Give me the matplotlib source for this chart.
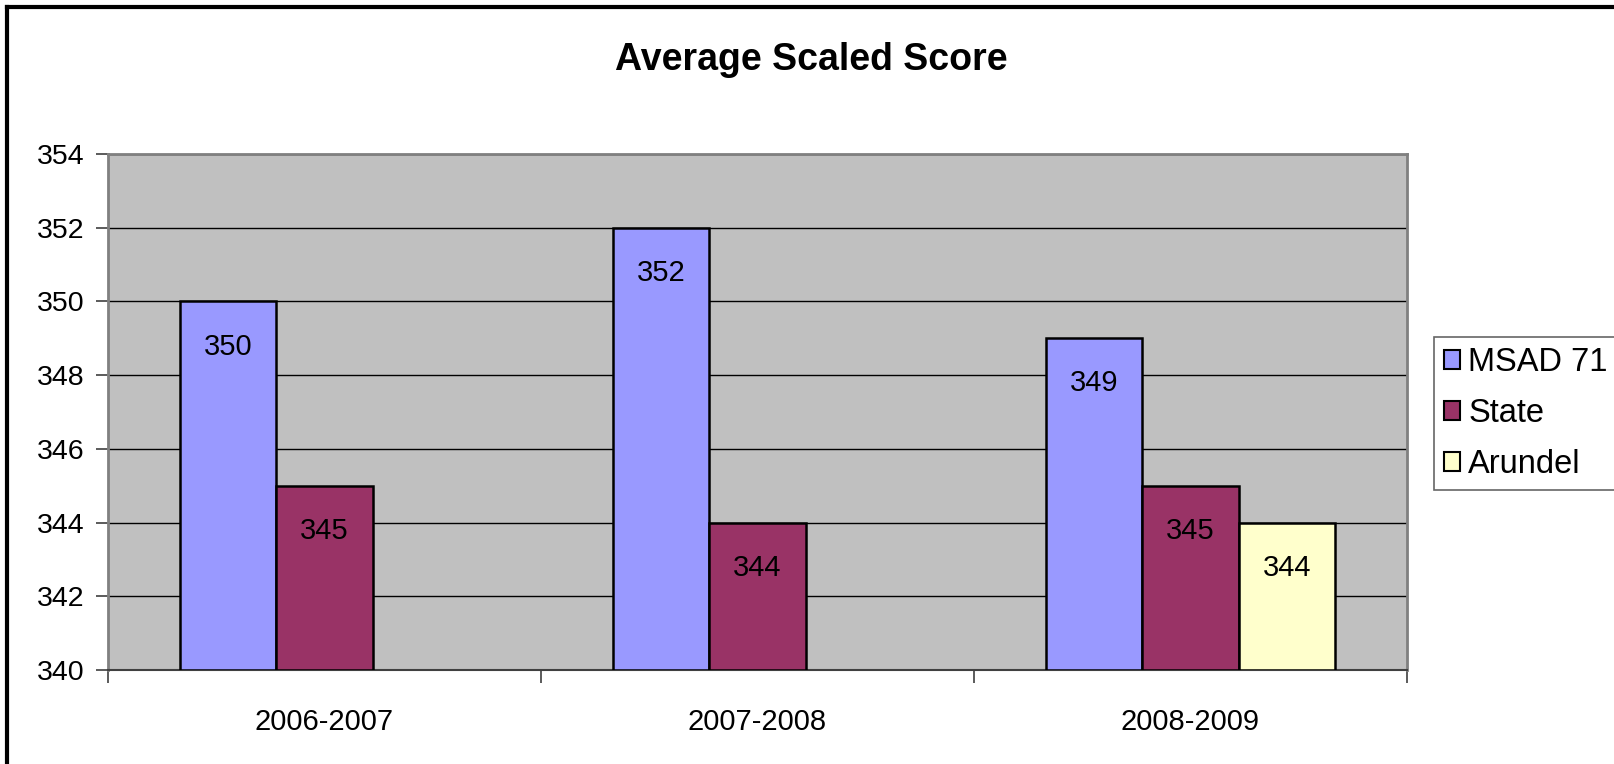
import matplotlib
matplotlib.use("Agg")
import matplotlib.pyplot as plt
import numpy as np
from matplotlib.patches import Rectangle
from matplotlib.lines import Line2D

categories = ["2006-2007", "2007-2008", "2008-2009"]
series_names = ["MSAD 71", "State", "Arundel"]
msad = [350, 352, 349]
state = [345, 344, 345]
arundel = [None, None, 344]
colors = ["#9999FF", "#993366", "#FFFFCC"]
yticks = [340, 342, 344, 346, 348, 350, 352, 354]

plt.rcParams['font.family'] = ['Liberation Sans', 'DejaVu Sans']

fig = plt.figure(figsize=(16.15, 7.64), dpi=100)
ax = fig.add_axes([108/1615, 1-670/764, 1299/1615, 516/764])
ax.set_facecolor("#C0C0C0")

x = np.arange(len(categories))
w = 0.222
base = 340
for i, (vals, col, name) in enumerate(zip([msad, state, arundel], colors, series_names)):
    xs = [xx + (i - 1) * w for xx, v in zip(x, vals) if v is not None]
    vs = [v for v in vals if v is not None]
    ax.bar(xs, [v - base for v in vs], width=w, bottom=base, color=col,
           edgecolor="black", linewidth=1.8, label=name, zorder=3)
    for xx, v in zip(xs, vs):
        ax.annotate(str(v), (xx, v), xytext=(0, -32.5), textcoords="offset points",
                    ha="center", va="center", fontsize=21, zorder=4)

ax.set_ylim(340, 354)
ax.set_xlim(-0.5, 2.5)
ax.set_yticks(yticks)
ax.set_yticklabels([str(t) for t in yticks], fontsize=20.5)
ax.yaxis.grid(True, color="black", linewidth=1.0, zorder=1)
ax.set_axisbelow(True)
ax.set_xticks([-0.5, 0.5, 1.5, 2.5])
ax.set_xticklabels([])
ax.set_xticks(x, minor=True)
ax.set_xticklabels(categories, minor=True, fontsize=21)
ax.tick_params(axis="x", which="minor", length=0, pad=27)
ax.tick_params(axis="x", which="major", length=9, width=1.2, color="#404040", direction="out")
ax.tick_params(axis="y", length=9, width=1.2, color="#404040", direction="out", pad=8)
for s in ["top", "right", "left"]:
    ax.spines[s].set_color("#808080")
    ax.spines[s].set_linewidth(2)
ax.spines["bottom"].set_color("#404040")
ax.spines["bottom"].set_linewidth(1.5)

fig.text(811/1615, 1-60/764, "Average Scaled Score", ha="center", va="center",
         fontsize=27, fontweight="bold")

handles = [Rectangle((0, 0), 1, 1, facecolor=c, edgecolor="black", linewidth=1.5) for c in colors]
leg = fig.legend(handles, series_names, loc="upper left",
                 bbox_to_anchor=(1434/1615, 1-337/764), fontsize=23.5,
                 frameon=True, fancybox=False, handlelength=0.5, handleheight=0.5,
                 handletextpad=0.25, labelspacing=0.62, borderpad=0.3, borderaxespad=0)
leg.get_frame().set_edgecolor("#404040")
leg.get_frame().set_linewidth(1.2)

fig.add_artist(Line2D([7/1615, 7/1615], [0, 1-7/764], color="black", linewidth=3, transform=fig.transFigure))
fig.add_artist(Line2D([7/1615, 1], [1-7/764, 1-7/764], color="black", linewidth=3, transform=fig.transFigure))

fig.savefig("out.png", dpi=100)
